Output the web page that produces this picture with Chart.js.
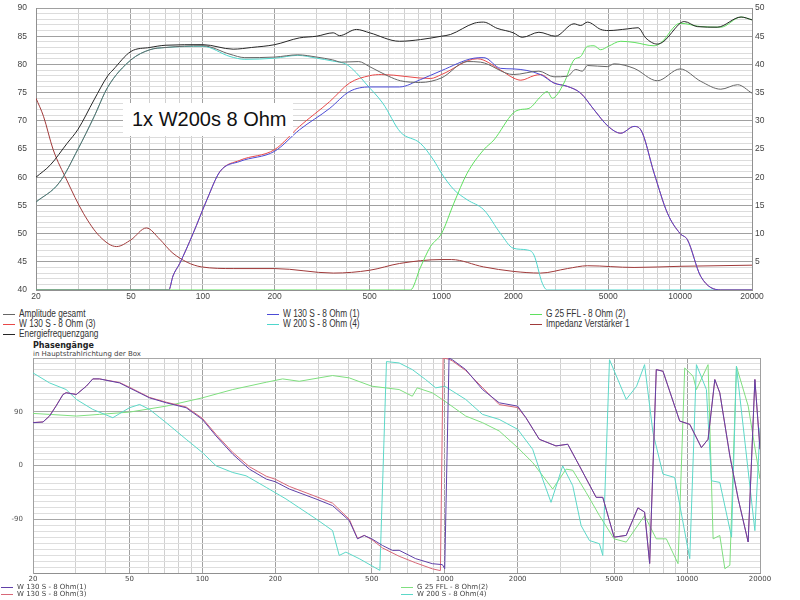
<!DOCTYPE html>
<html lang="de">
<head>
<meta charset="UTF-8">
<title>1x W200s 8 Ohm</title>
<script src="https://cdn.jsdelivr.net/npm/chart.js"></script>
<style>
    body {
        margin: 0;
        width: 800px;
        height: 600px;
        position: relative;
        overflow: hidden;
        background: #fff;
        font-family: 'Liberation Sans', Arial, sans-serif;
    }
    canvas { position: absolute; left: 0; }
    #amp { top: 0; }
    #phase { top: 353px; }
    .tag {
        position: absolute;
        left: 123px;
        top: 103px;
        width: 170px;
        height: 33px;
        background: #fff;
        font-size: 20px;
        line-height: 33px;
        text-indent: 9px;
        color: #111;
    }
    .item {
        position: absolute;
        height: 10px;
        white-space: nowrap;
        color: #333;
    }
    .item i {
        display: inline-block;
        width: 12px;
        height: 0;
        border-top: 1px solid;
        vertical-align: middle;
        margin-right: 4px;
    }
    .item span { display: inline-block; transform-origin: left center; }
    .top-item { font-size: 10px; line-height: 10px; }
    .top-item span { transform: scaleX(0.83); }
    .ph-item { font-family: 'DejaVu Sans', sans-serif; font-size: 7px; line-height: 8px; color: #444; }
    .ph-title { position: absolute; left: 33px; top: 341px; font: bold 8px 'DejaVu Sans', sans-serif; color: #222; }
    .ph-sub { position: absolute; left: 33px; top: 350px; font: 7px 'DejaVu Sans', sans-serif; color: #444; }
</style>
</head>
<body>

<canvas id="amp" width="800" height="305"></canvas>
<div class="tag">1x W200s 8 Ohm</div>
<div class="ph-title">Phasengänge</div>
<div class="ph-sub">in Hauptstrahlrichtung der Box</div>
<canvas id="phase" width="800" height="236"></canvas>

<script>
    // x-Achse (Hz)
    const xGrid = [20, 30, 40, 50, 60, 70, 80, 90,
        100, 200, 300, 400, 500, 600, 700, 800, 900,
        1000, 2000, 3000, 4000, 5000, 6000, 7000, 8000, 9000,
        10000, 20000];
    const xLabels = [20, 50, 100, 200, 500, 1000, 2000, 5000, 10000, 20000];

    // Amplitudengang (dB)
    const ampNames = ['Amplitude gesamt', 'W 130 S - 8 Ohm (1)', 'G 25 FFL - 8 Ohm (2)',
        'W 130 S - 8 Ohm (3)', 'W 200 S - 8 Ohm (4)', 'Impedanz Verstärker 1', 'Energiefrequenzgang'];
    const ampColors = ['#666666', '#4b4bd6', '#5fe05f', '#e84848', '#4fd6cc', '#a03a3a', '#262626'];

    const gesamtFreq = [20, 25, 30, 35, 40, 50, 60, 70, 100, 130, 150, 200, 250, 300, 350, 380, 450, 500, 600, 673,
        816, 1000, 1281, 1458, 2000, 2560, 2960, 3370, 3650, 3890, 4090, 4950, 5290, 6410, 8020, 10000, 12200, 14800, 17400, 20000];
    const gesamtDb = [55.6, 59, 65, 70.7, 76, 80.8, 82.6, 83, 83.3, 81.8, 81.2, 81.3, 81.7, 81.3, 80.8, 80.4, 80.5, 79.6, 77.9, 77.1,
        76.8, 77.6, 80.5, 80.4, 78.2, 78.8, 77.8, 77.9, 79.1, 78.8, 79.8, 79.6, 80.1, 79.3, 77.1, 79.2, 77, 75.6, 76.4, 74.9];

    const w130aFreq = [20, 72, 75, 80, 91, 104, 118, 143, 200, 254, 340, 412, 500, 667, 816, 1000, 1367, 1505, 1768, 2000,
        2600, 2960, 3370, 3830, 4350, 5000, 5640, 6410, 6840, 7780, 8850, 10000, 10730, 12200, 14800, 20000];
    const w130aDb = [40, 40, 42.5, 44.7, 50, 56, 61, 62.8, 64.6, 68.4, 72.2, 75.2, 76, 76, 77.3, 78.9, 81.1, 81.2, 79.3, 79.2,
        78.2, 76.7, 76.1, 74.9, 72, 69, 67.8, 69, 68.4, 60.7, 53.6, 50, 48.9, 42.4, 40, 40];

    const g25Freq = [20, 741, 816, 899, 1000, 1127, 1281, 1505, 1658, 2000, 2146, 2325, 2603, 2776, 2913, 3260, 3590, 3830,
        4085, 4356, 4646, 5000, 5640, 6410, 7780, 8290, 10000, 12200, 14800, 18000, 20000];
    const g25Db = [40, 40, 44, 47.7, 50, 55.4, 60.7, 64.9, 66.6, 71.4, 72, 72.2, 74.3, 75.2, 74, 76.7, 80.8, 81.4,
        83.2, 83.3, 82.6, 83.2, 84.1, 83.9, 83.3, 83.8, 87.3, 86.7, 86.6, 88.4, 87.9];

    const w130bFreq = [20, 72, 75, 80, 91, 104, 118, 143, 200, 254, 340, 412, 500, 560, 900, 1000, 1412, 1768, 2000, 2150,
        2440, 2600, 2960, 3370, 3830, 4350, 5000, 5640, 6410, 6840, 7780, 8850, 10000, 10730, 12200, 14800, 20000];
    const w130bDb = [40, 40, 42.5, 44.7, 50, 56, 61, 63, 64.9, 69, 73.4, 76.7, 78, 78.2, 77.5, 78.2, 81, 79, 77.6, 77.2,
        78, 78.2, 76.7, 76.1, 74.9, 72, 69, 67.8, 69, 68.4, 60.7, 53.6, 50, 48.9, 42.4, 40, 40];

    const w200Freq = [20, 25, 30, 35, 40, 50, 60, 70, 100, 130, 150, 200, 250, 300, 350, 400, 440, 484, 568, 673,
        816, 928, 1000, 1127, 1281, 1505, 1768, 2000, 2288, 2440, 2645, 2776, 20000];
    const w200Db = [55.6, 59, 65, 70.7, 76, 80.8, 82.6, 83, 83.2, 81.4, 80.9, 81.1, 81.6, 81.1, 80.6, 80, 78.5, 76.5, 73.1, 68,
        66, 63, 60.7, 57.8, 56, 54.2, 50, 47.4, 47.1, 46.2, 41.2, 40, 40];

    // Impedanz (Ohm, rechte Achse)
    const impFreq = [20, 21.5, 23.6, 26.9, 31.6, 37, 43.5, 50, 58, 66, 75, 98.6, 134, 200, 352, 500, 667, 1000, 1100, 1500,
        2000, 2600, 3370, 4090, 6410, 10000, 20000];
    const impOhm = [34, 30.8, 24.9, 19.5, 13.6, 9.5, 7.7, 8.9, 11, 9, 6.5, 4.1, 3.8, 3.8, 3, 3.5, 4.7, 5.4, 5.4, 4.1,
        3.3, 3, 3.8, 4.3, 4, 4.2, 4.4];

    const energyFreq = [20, 23, 27, 30, 35, 40, 42, 50, 60, 70, 100, 134, 160, 200, 254, 300, 352, 374, 440, 500,
        667, 816, 1000, 1090, 1370, 1500, 1710, 2000, 2180, 2560, 3000, 3590, 3830, 4090, 4650, 5000, 6020, 6660, 7170, 8020,
        8550, 10000, 10400, 11800, 14300, 18000, 20000];
    const energyDb = [60, 62.2, 66, 68.5, 73.7, 78, 79, 82.3, 83, 83.4, 83.5, 82.7, 83, 83.5, 84.7, 85, 85.6, 85.1, 86.2, 85.6,
        84.1, 84.4, 85, 85.3, 87.3, 87.5, 86.4, 85.6, 84.8, 85.7, 85, 87.2, 86.9, 87.5, 86.2, 86, 86.3, 86.5, 84.7, 83.6,
        84.1, 87.3, 87.6, 86.7, 86.6, 88.4, 87.9];

    // Phasengänge (Grad)
    const phaseNames = ['W 130 S - 8 Ohm(1)', 'G 25 FFL - 8 Ohm(2)', 'W 130 S - 8 Ohm(3)', 'W 200 S - 8 Ohm(4)'];
    const phaseColors = ['#6040a8', '#7fdf7f', '#d86878', '#5cd8c8'];

    const ph1Freq = [20, 22, 23.4, 24.9, 26.6, 27.4, 30.2, 33.2, 35.3, 37.6, 45.5, 50, 60.5, 70.9, 85.7, 100, 113.9, 133.4,
        156.3, 183.5, 200, 228.4, 294.3, 344.5, 403.7, 436.7, 465.4, 500, 553.4, 609, 648.6, 759, 889, 978, 1000, 1042, 1076,
        1221, 1432, 1678, 2000, 2163, 2456, 2878, 3219, 3596, 4216, 4490, 5000, 5610, 6270, 6680, 7010, 7465, 7955, 9326,
        10260, 11460, 12210, 13020, 13650, 15020, 16260, 17870, 19050, 20000];
    const ph1Deg = [71.7, 72.8, 82.8, 99.4, 118.9, 121.7, 118.9, 132.8, 145, 145, 138.3, 130, 113.3, 105, 96.7, 77.2, 49.4, 18.9,
        -6.1, -22.8, -27.2, -39.4, -56.1, -67.2, -92.2, -122.8, -117.2, -122.8, -133.9, -142.2, -142, -156, -164.4, -166, -172.8, 180, 177,
        160.6, 127.2, 105, 99.4, 80, 43.9, 32.8, 35.6, -0.6, -53.3, -53.3, -120, -117, -71, -78, -164, 160.6, 157.8, 74.4,
        68.9, 30, 43.9, 143.9, 121.7, 16.1, -56, -128, 144, 27.2];

    const ph2Freq = [20, 23.4, 30.2, 37.6, 50, 70.9, 100, 133.4, 183.5, 214.4, 251, 344.5, 403.7, 500, 648.6, 735, 770, 889,
        1000, 1221, 1432, 1678, 2000, 2306, 2790, 3168, 3375, 3832, 4350, 5000, 5610, 6680, 7465, 8213, 9180, 9780, 10590,
        10930, 12210, 12810, 13650, 14320, 15020, 15990, 17880, 20000];
    const ph2Deg = [87.2, 85.6, 82.8, 85.6, 89.4, 99.4, 113.3, 127.2, 139.4, 145, 141, 150.6, 146.7, 132.8, 127.2, 116, 130, 121.7,
        107.8, 82.8, 71.7, 57.8, 30, 5, -39.4, -6.1, -8, -45, -83.9, -122.8, -128.3, -83.9, -122.8, -122.8, -164.4, 163.3, 149.4,
        127.2, 168.9, -122.8, -117.2, -172.8, -167, 166, 99.4, -22.8];

    const ph3Freq = [20, 22, 23.4, 24.9, 26.6, 27.4, 30.2, 33.2, 35.3, 37.6, 45.5, 50, 60.5, 70.9, 85.7, 100, 113.9, 133.4,
        156.3, 183.5, 200, 228.4, 294.3, 344.5, 403.7, 436.7, 465.4, 500, 553.4, 648.6, 759, 889, 960, 985, 1042, 1076,
        1221, 1678, 2000, 2163, 2456, 2878, 3219, 3596, 4216, 4490, 5000, 5610, 6270, 6680, 7010, 7465, 7955, 9326,
        10260, 11460, 12210, 13020, 13650, 15020, 16260, 17870, 19050, 20000];
    const ph3Deg = [72, 73, 83, 100, 119, 122, 119, 133, 145, 145, 139, 131, 114, 106, 98, 79, 52, 22,
        -2, -18, -23, -35, -52, -63, -90, -122, -117, -124, -138, -152, -163, -173, -176, 180, 178, 175,
        159, 102, 97, 80, 43.9, 32.8, 35.6, -0.6, -53.3, -53.3, -120, -117, -71, -78, -164, 160.6, 157.8, 74.4,
        68.9, 30, 43.9, 143.9, 121.7, 16.1, -56, -128, 144, 27.2];

    const ph4Freq = [20, 23.4, 27.4, 30.2, 35.3, 42.7, 50, 55.1, 60.5, 70.9, 85.7, 100, 113.9, 133.4, 151.4, 183.5, 221.3,
        294.3, 344.5, 367, 391, 443.8, 540, 575, 648.6, 735, 834, 918, 1000, 1221, 1432, 1678, 2000, 2306, 2536, 2746,
        3068, 3375, 3655, 3955, 4350, 4490, 4786, 5610, 6191, 6680, 7233, 7955, 8890, 10260, 10930, 12020, 12610, 13650,
        15260, 15990, 19050, 20000];
    const ph4Deg = [155, 138.3, 127.2, 110.6, 93.9, 80, 96.7, 102.2, 93.9, 71.7, 43.9, 21.7, -0.6, -11.7, -17.2, -36.7, -56,
        -89.4, -108.9, -150.6, -145, -156, -175.6, 174, 171.7, 160.6, 143.9, 130, 132.8, 110.6, 85.6, 77.2, 60.6, 27.2, -22.8, -61.7,
        -0.6, -33.9, -100.6, -125.6, -131, -150.6, 177.2, 110.6, 132.8, 168.9, 55, -14.4, -20, -156, 168.9, 127.2, -25.6, -28.3,
        -120, 166, -109, 63.3];

    const pts = (fs, vs) => fs.map((f, i) => ({ x: f, y: vs[i] }));
    const majorX = v => xLabels.includes(v);

    // feste Achsbreite, ohne Zusatzabstand oben/unten
    const fixWidth = w => ax => { ax.width = w; ax.paddingTop = 0; ax.paddingBottom = 0; };

    function xAxis(size, font, height) {
        return {
            type: 'logarithmic',
            min: 20,
            max: 20000,
            afterBuildTicks: ax => { ax.ticks = xGrid.map(v => ({ value: v })); },
            afterFit: ax => { ax.height = height; },
            ticks: {
                autoSkip: false, maxRotation: 0, padding: 2,
                color: '#444', font: { family: font, size: size },
                callback: v => majorX(v) ? String(v) : ''
            },
            grid: {
                drawTicks: false,
                color: ctx => majorX(ctx.tick.value) ? '#a0a0a0' : '#d0d0d0'
            },
            border: { color: '#909090' }
        };
    }

    const line = (label, data, color, order, extra) => Object.assign({
        label: label, data: data, borderColor: color, backgroundColor: color,
        borderWidth: 1, pointRadius: 0, fill: false, order: order
    }, extra || {});
    const smooth = { cubicInterpolationMode: 'monotone' };

    new Chart(document.getElementById('amp'), {
        type: 'line',
        data: {
            datasets: [
                line(ampNames[6], pts(energyFreq, energyDb), ampColors[6], 0, smooth),
                line(ampNames[0], pts(gesamtFreq, gesamtDb), ampColors[0], 1, smooth),
                line(ampNames[1], pts(w130aFreq, w130aDb), ampColors[1], 3, smooth),
                line(ampNames[3], pts(w130bFreq, w130bDb), ampColors[3], 4, smooth),
                line(ampNames[2], pts(g25Freq, g25Db), ampColors[2], 2, smooth),
                line(ampNames[4], pts(w200Freq, w200Db), ampColors[4], 5, smooth),
                line(ampNames[5], pts(impFreq, impOhm), ampColors[5], 6, Object.assign({ yAxisID: 'y1' }, smooth))
            ]
        },
        options: {
            responsive: false,
            animation: false,
            devicePixelRatio: 1,
            layout: { padding: { top: 8, left: 0, right: 0, bottom: 0 } },
            plugins: { legend: { display: false }, tooltip: { enabled: false } },
            scales: {
                x: xAxis(8.5, "'Liberation Sans', Arial", 15),
                y: {
                    min: 40, max: 90,
                    afterFit: fixWidth(36),
                    ticks: {
                        stepSize: 1, autoSkip: false, padding: 9, color: '#444',
                        font: { family: "'Liberation Sans', Arial", size: 8.5 },
                        callback: v => v % 5 === 0 ? v : ''
                    },
                    grid: { drawTicks: false, color: ctx => ctx.tick.value % 5 === 0 ? '#a0a0a0' : '#dcdcdc' },
                    border: { color: '#909090' }
                },
                y1: {
                    position: 'right',
                    min: 0, max: 50,
                    afterFit: fixWidth(48),
                    ticks: {
                        stepSize: 5, padding: 3, color: '#444',
                        font: { family: "'Liberation Sans', Arial", size: 8.5 },
                        callback: v => v === 0 ? '' : v
                    },
                    grid: { display: false, drawTicks: false },
                    border: { color: '#909090' }
                }
            }
        }
    });

    new Chart(document.getElementById('phase'), {
        type: 'line',
        data: {
            datasets: [
                line(phaseNames[0], pts(ph1Freq, ph1Deg), phaseColors[0], 0),
                line(phaseNames[2], pts(ph3Freq, ph3Deg), phaseColors[2], 1),
                line(phaseNames[1], pts(ph2Freq, ph2Deg), phaseColors[1], 3),
                line(phaseNames[3], pts(ph4Freq, ph4Deg), phaseColors[3], 2)
            ]
        },
        options: {
            responsive: false,
            animation: false,
            devicePixelRatio: 1,
            layout: { padding: { top: 5, left: 0, right: 40, bottom: 0 } },
            plugins: { legend: { display: false }, tooltip: { enabled: false } },
            scales: {
                x: xAxis(7, "'DejaVu Sans'", 16),
                y: {
                    min: -180, max: 180,
                    afterFit: fixWidth(33),
                    ticks: {
                        stepSize: 10, autoSkip: false, padding: 10, color: '#555',
                        font: { family: "'DejaVu Sans'", size: 7 },
                        callback: v => (v === 90 || v === 0 || v === -90) ? v : ''
                    },
                    grid: { drawTicks: false, color: ctx => ctx.tick.value % 90 === 0 ? '#a8a8a8' : '#dedede' },
                    border: { color: '#a0a0a0' }
                }
            }
        }
    });

    // Legenden
    function legend(names, colors, cls, colX, rowY) {
        names.forEach((name, i) => {
            const d = document.createElement('div');
            d.className = 'item ' + cls;
            d.style.left = colX[i % colX.length] + 'px';
            d.style.top = (rowY[Math.floor(i / colX.length)] - 5) + 'px';
            d.innerHTML = '<i style="border-color:' + colors[i] + '"></i><span>' + name + '</span>';
            document.body.appendChild(d);
        });
    }
    legend(ampNames, ampColors, 'top-item', [3, 267, 530], [314, 324, 334]);
    legend(phaseNames, phaseColors, 'ph-item', [1, 401], [588, 595]);
</script>

</body>
</html>
